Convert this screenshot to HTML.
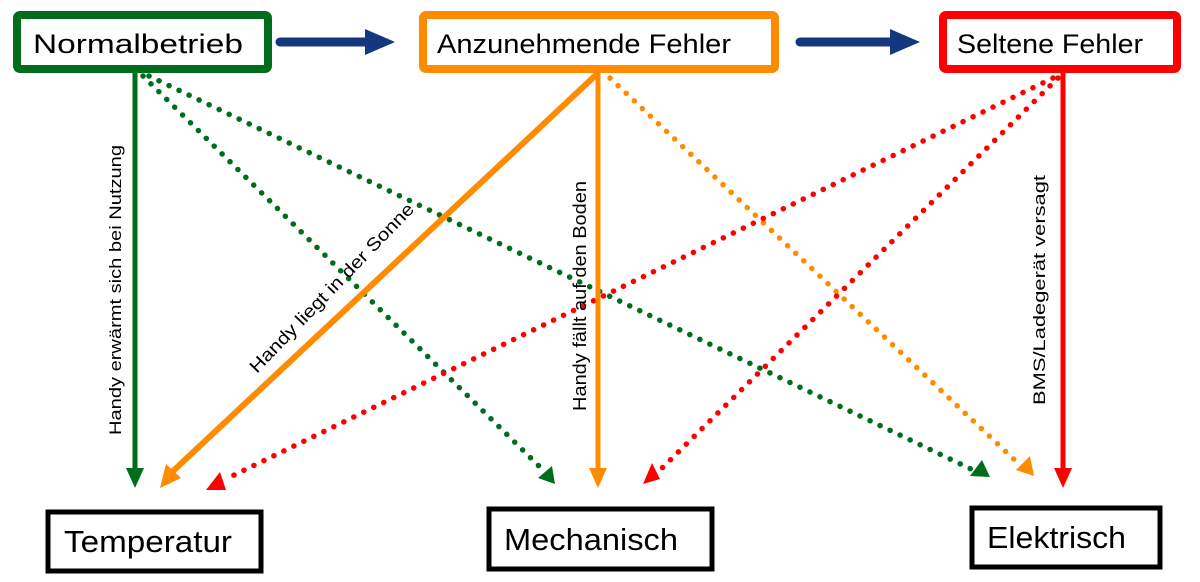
<!DOCTYPE html>
<html><head><meta charset="utf-8"><style>
html,body{margin:0;padding:0;background:#fff;width:1200px;height:582px;overflow:hidden}
svg{display:block}
text{font-family:"Liberation Sans",sans-serif}
</style></head><body>
<svg width="1200" height="582" viewBox="0 0 1200 582" xmlns="http://www.w3.org/2000/svg">
<!-- top boxes -->
<rect x="17" y="15" width="251" height="54" rx="3" fill="#fff" stroke="#006d1c" stroke-width="8"/>
<text x="33" y="53" font-size="27" fill="#000" textLength="210" lengthAdjust="spacingAndGlyphs">Normalbetrieb</text>
<rect x="423" y="15" width="352" height="54" rx="3" fill="#fff" stroke="#ff8c00" stroke-width="8"/>
<text x="437" y="53" font-size="27" fill="#000" textLength="294" lengthAdjust="spacingAndGlyphs">Anzunehmende Fehler</text>
<rect x="943" y="15" width="234" height="54" rx="3" fill="#fff" stroke="#ff0000" stroke-width="8"/>
<text x="957" y="53" font-size="27" fill="#000" textLength="186" lengthAdjust="spacingAndGlyphs">Seltene Fehler</text>
<!-- blue arrows -->
<line x1="280" y1="42" x2="368" y2="42" stroke="#14377d" stroke-width="9" stroke-linecap="round"/>
<polygon points="365,29 395,42 365,55" fill="#14377d"/>
<line x1="800" y1="42" x2="892" y2="42" stroke="#14377d" stroke-width="9" stroke-linecap="round"/>
<polygon points="890,29 920,42 890,55" fill="#14377d"/>
<!-- bottom boxes -->
<rect x="48" y="512" width="213" height="59" fill="#fff" stroke="#000" stroke-width="5"/>
<text x="64" y="552" font-size="31" fill="#000" textLength="168" lengthAdjust="spacingAndGlyphs">Temperatur</text>
<rect x="489" y="509" width="223" height="60" fill="#fff" stroke="#000" stroke-width="5"/>
<text x="504" y="550" font-size="31" fill="#000" textLength="174" lengthAdjust="spacingAndGlyphs">Mechanisch</text>
<rect x="972" y="508" width="188" height="59" fill="#fff" stroke="#000" stroke-width="5"/>
<text x="987" y="548" font-size="31" fill="#000" textLength="139" lengthAdjust="spacingAndGlyphs">Elektrisch</text>

<!-- dotted lines -->
<g stroke-width="5.5" stroke-linecap="round" stroke-dasharray="0.1 11" fill="none">
<line x1="143" y1="76" x2="543" y2="470" stroke="#006d1c"/>
<line x1="149" y1="76" x2="973" y2="470" stroke="#006d1c"/>
<line x1="610" y1="78" x2="1020" y2="465" stroke="#ff8c00"/>
<line x1="1053" y1="78" x2="228" y2="478" stroke="#ff0000"/>
<line x1="1058" y1="78" x2="660" y2="470" stroke="#ff0000"/>
</g>
<!-- dotted arrowheads -->
<polygon points="538,478 555,484 552,466" fill="#006d1c"/>
<polygon points="970,476 990,477 982,460" fill="#006d1c"/>
<polygon points="1016,470 1034,476 1030,456" fill="#ff8c00"/>
<polygon points="206,490 226,490 220,472" fill="#ff0000"/>
<polygon points="643,484 660,479 652,463" fill="#ff0000"/>

<!-- solid lines -->
<line x1="135" y1="73" x2="135" y2="470" stroke="#006d1c" stroke-width="5"/>
<polygon points="126,468 144,468 135,488" fill="#006d1c"/>
<line x1="597" y1="74" x2="172" y2="472" stroke="#ff8c00" stroke-width="6"/>
<polygon points="160,488 166,464 181,478" fill="#ff8c00"/>
<line x1="598" y1="73" x2="598" y2="470" stroke="#ff8c00" stroke-width="5"/>
<polygon points="589,468 607,468 598,488" fill="#ff8c00"/>
<line x1="1063" y1="73" x2="1063" y2="470" stroke="#ff0000" stroke-width="5"/>
<polygon points="1054,468 1072,468 1063,488" fill="#ff0000"/>

<!-- labels -->
<text transform="translate(121,290) rotate(-90)" text-anchor="middle" font-size="17" fill="#000" textLength="290" lengthAdjust="spacingAndGlyphs">Handy erwärmt sich bei Nutzung</text>
<text transform="translate(336,292) rotate(-46)" text-anchor="middle" font-size="18" fill="#000" textLength="228" lengthAdjust="spacingAndGlyphs">Handy liegt in der Sonne</text>
<text transform="translate(586,296) rotate(-90)" text-anchor="middle" font-size="18" fill="#000" textLength="230" lengthAdjust="spacingAndGlyphs">Handy fällt auf den Boden</text>
<text transform="translate(1045,290) rotate(-90)" text-anchor="middle" font-size="17" fill="#000" textLength="230" lengthAdjust="spacingAndGlyphs">BMS/Ladegerät versagt</text>
</svg>
</body></html>
